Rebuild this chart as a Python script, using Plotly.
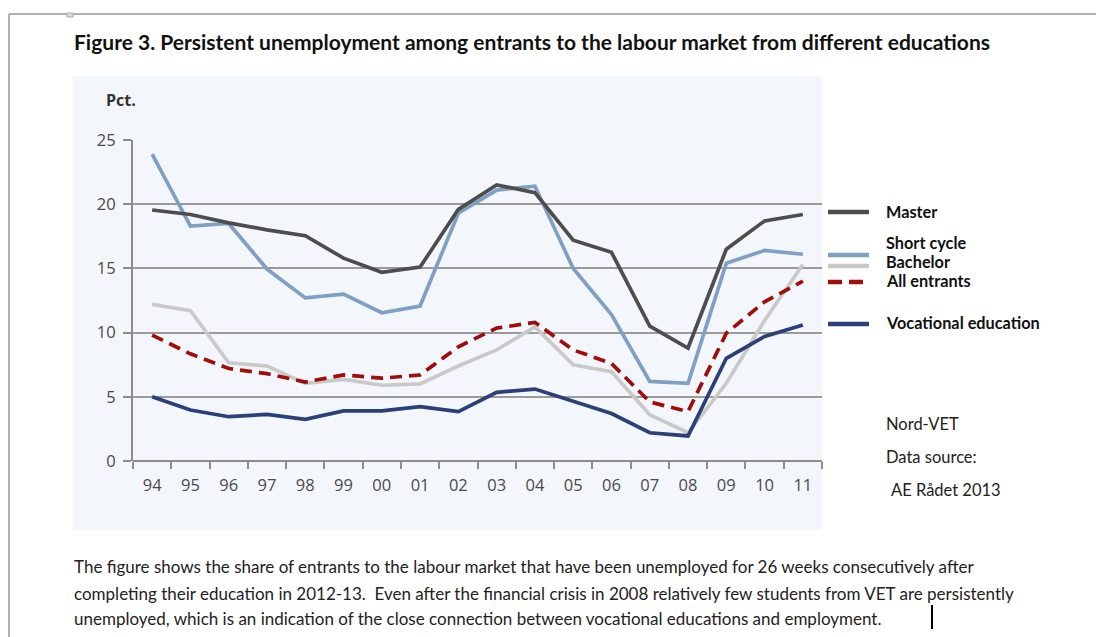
import plotly.graph_objects as go

years = ["94", "95", "96", "97", "98", "99", "00", "01", "02", "03",
         "04", "05", "06", "07", "08", "09", "10", "11"]
master = [19.55, 19.2, 18.55, 18.0, 17.55, 15.8, 14.7, 15.1, 19.6, 21.5,
          20.9, 17.2, 16.25, 10.5, 8.8, 16.5, 18.7, 19.2]
short_cycle = [23.9, 18.3, 18.5, 14.95, 12.7, 13.0, 11.55, 12.07, 19.3, 21.1,
               21.4, 15.0, 11.4, 6.2, 6.05, 15.4, 16.4, 16.1]
bachelor = [12.2, 11.7, 7.65, 7.4, 6.05, 6.35, 5.9, 6.0, 7.4, 8.65,
            10.45, 7.5, 6.95, 3.6, 2.2, 6.05, 10.95, 15.3]
all_entrants = [9.8, 8.35, 7.2, 6.8, 6.15, 6.7, 6.45, 6.7, 8.9, 10.35,
                10.8, 8.65, 7.6, 4.6, 3.85, 9.95, 12.4, 14.0]
vocational = [5.0, 3.97, 3.45, 3.63, 3.25, 3.9, 3.9, 4.23, 3.85, 5.35,
              5.6, 4.67, 3.7, 2.2, 1.95, 8.0, 9.7, 10.6]

series_names = ["Master", "Short cycle", "Bachelor", "All entrants", "Vocational education"]
y_ticks = [0, 5, 10, 15, 20, 25]

OFF = 8  # page body margin
W, H = 1104 - OFF, 637 - OFF
L, R, T, B = 133, 822, 140, 461  # plot area bounds in window pixels


def px(x):
    return (x - L) / (R - L)


def py(y):
    return (B - y) / (B - T)


C_MASTER = "#4d4d4d"
C_SHORT = "#819fc2"
C_BACH = "#c9c9c9"
C_ALL = "#a00d0d"
C_VOC = "#2c3f77"

TXT_FONT = "Lato"

fig = go.Figure()
styles = [
    (bachelor, C_BACH, "solid"),
    (short_cycle, C_SHORT, "solid"),
    (master, C_MASTER, "solid"),
    (vocational, C_VOC, "solid"),
    (all_entrants, C_ALL, "12px,7px"),
]
for vals, col, dash in styles:
    fig.add_trace(go.Scatter(x=years, y=vals, mode="lines",
                             line=dict(color=col, width=3.7, dash=dash),
                             showlegend=False, hoverinfo="skip"))

shapes = []
shapes.append(dict(type="rect", xref="paper", yref="paper",
                   x0=px(72.5), x1=px(822), y0=py(530), y1=py(76),
                   fillcolor="#f3f7fc", line=dict(width=0), layer="below"))
shapes.append(dict(type="line", xref="paper", yref="paper",
                   x0=px(9), x1=px(1104), y0=py(14), y1=py(14),
                   line=dict(color="#b0b0b0", width=2)))
shapes.append(dict(type="line", xref="paper", yref="paper",
                   x0=px(9), x1=px(9), y0=py(14), y1=py(637),
                   line=dict(color="#9a9a9a", width=1.5)))
shapes.append(dict(type="rect", xref="paper", yref="paper",
                   x0=px(67), x1=px(73), y0=py(13), y1=py(17),
                   line=dict(color="#aaaaaa", width=1), fillcolor="#dddddd"))
shapes.append(dict(type="line", xref="paper", yref="paper",
                   x0=px(932), x1=px(932), y0=py(605), y1=py(629),
                   line=dict(color="#000000", width=2)))

leg = [
    ("Master", C_MASTER, "solid", 212, 211),
    ("Short cycle", C_SHORT, "solid", 255, 242),
    ("Bachelor", C_BACH, "solid", 266, 261),
    ("All entrants", C_ALL, "dash", 282, 280),
    ("Vocational education", C_VOC, "solid", 324, 322),
]
annotations = []
for name, col, dash, ly, ty in leg:
    shapes.append(dict(type="line", xref="paper", yref="paper",
                       x0=px(828), x1=px(869), y0=py(ly), y1=py(ly),
                       line=dict(color=col, width=4.5,
                                 dash="14px,7px" if dash == "dash" else "solid")))
for name, col, dash, ly, ty in leg:
    annotations.append(dict(text="<b>" + name + "</b>", xref="paper", yref="paper",
                            x=px(884), y=py(ty), xanchor="left", yanchor="middle",
                            showarrow=False,
                            font=dict(family=TXT_FONT, size=16.3, color="#111111")))

for txt, xx, yy in [("Nord-VET", 884, 424), ("Data source:", 884, 457), ("AE Rådet 2013", 889, 490)]:
    annotations.append(dict(text=txt, xref="paper", yref="paper", x=px(xx), y=py(yy),
                            xanchor="left", yanchor="middle", showarrow=False,
                            font=dict(family=TXT_FONT, size=16.5, color="#222222")))

annotations.append(dict(text="<b>Figure 3. Persistent unemployment among entrants to the labour market from different educations</b>",
                        xref="paper", yref="paper", x=px(72), y=py(41),
                        xanchor="left", yanchor="middle", showarrow=False,
                        font=dict(family=TXT_FONT, size=21, color="#111111")))
annotations.append(dict(text="<b>Pct.</b>", xref="paper", yref="paper", x=px(121), y=py(100),
                        xanchor="center", yanchor="middle", showarrow=False,
                        font=dict(family="Open Sans", size=16, color="#333333")))
body = [
    ("The figure shows the share of entrants to the labour market that have been unemployed for 26 weeks consecutively after", 566),
    ("completing their education in 2012-13.  Even after the financial crisis in 2008 relatively few students from VET are persistently", 593),
    ("unemployed, which is an indication of the close connection between vocational educations and employment.", 618),
]
for txt, yy in body:
    annotations.append(dict(text=txt, xref="paper", yref="paper", x=px(72), y=py(yy),
                            xanchor="left", yanchor="middle", showarrow=False,
                            font=dict(family=TXT_FONT, size=17, color="#222222")))

fig.update_layout(
    width=W, height=H,
    margin=dict(l=L - OFF, r=1104 - R, t=T - OFF, b=637 - B, pad=0),
    paper_bgcolor="white",
    plot_bgcolor="rgba(0,0,0,0)",
    shapes=shapes,
    annotations=annotations,
    xaxis=dict(type="category", categoryorder="array", categoryarray=years,
               range=[-0.5, len(years) - 0.5], tickson="boundaries",
               ticks="outside", ticklen=7, tickwidth=1.5, tickcolor="#8c8c8c",
               showgrid=False, showline=False, zeroline=False,
               tickfont=dict(family="Open Sans", size=16.5, color="#4a4a4a"),
               ticklabelstandoff=12, fixedrange=True),
    yaxis=dict(range=[0, 25], tickvals=y_ticks, ticks="outside", ticklen=8,
               tickwidth=1.5, tickcolor="#8c8c8c",
               showgrid=True, gridcolor="#9a9a9a", gridwidth=1.5,
               zeroline=True, zerolinecolor="#8c8c8c", zerolinewidth=2,
               showline=True, linecolor="#8c8c8c", linewidth=2,
               tickfont=dict(family="Open Sans", size=16.5, color="#4a4a4a"),
               ticklabelstandoff=4, fixedrange=True),
)

fig.write_html("out.html")
